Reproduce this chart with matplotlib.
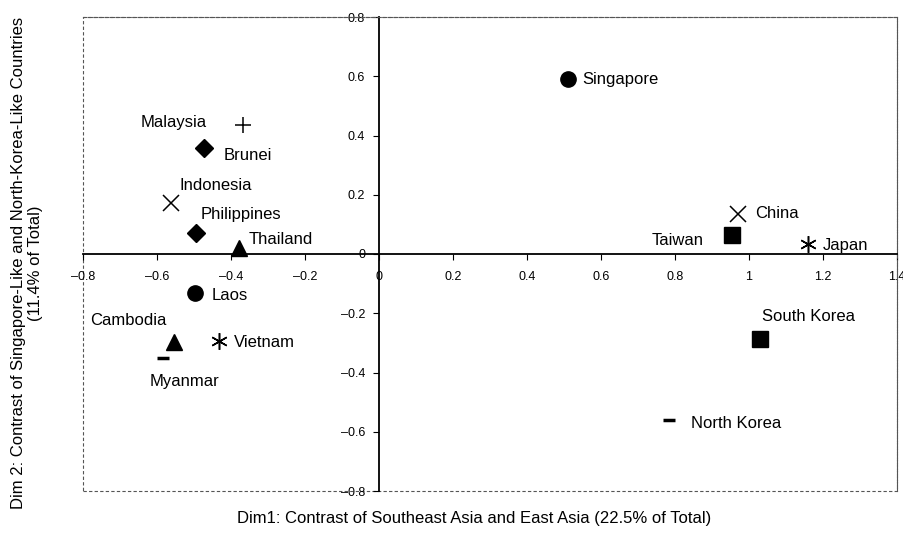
import matplotlib
matplotlib.use("Agg")
import matplotlib.pyplot as plt
from matplotlib.patches import Rectangle

plt.rcParams['font.family'] = ['Liberation Sans', 'DejaVu Sans']

# correspondence analysis coordinates
countries = ['Singapore', 'China', 'Taiwan', 'Japan', 'South Korea', 'North Korea',
             'Malaysia', 'Brunei', 'Indonesia', 'Philippines', 'Thailand',
             'Laos', 'Cambodia', 'Vietnam', 'Myanmar']
dim1 = [0.51, 0.97, 0.955, 1.16, 1.03, 0.785,
        -0.367, -0.473, -0.563, -0.495, -0.378,
        -0.497, -0.554, -0.432, -0.584]
dim2 = [0.59, 0.135, 0.064, 0.034, -0.287, -0.561,
        0.436, 0.358, 0.172, 0.071, 0.02,
        -0.132, -0.297, -0.294, -0.351]
markers = ['o', 'x', 's', (6, 2, 0), 's', '_',
           '+', 'D', 'x', 'D', '^',
           'o', '^', (6, 2, 0), '_']

xticks = [-0.8, -0.6, -0.4, -0.2, 0, 0.2, 0.4, 0.6, 0.8, 1, 1.2, 1.4]
xticklabels = ['\u20130.8', '\u20130.6', '\u20130.4', '\u20130.2', '0', '0.2', '0.4',
               '0.6', '0.8', '1', '1.2', '1.4']
yticks = [-0.8, -0.6, -0.4, -0.2, 0, 0.2, 0.4, 0.6, 0.8]
yticklabels = ['\u20130.8', '\u20130.6', '\u20130.4', '\u20130.2', '0', '0.2', '0.4', '0.6', '0.8']

# label placement (offset in pixels, alignment)
label_pos = {
    'Singapore': (15, 0, 'left'), 'China': (17, 1, 'left'), 'Taiwan': (-29, -5, 'right'),
    'Japan': (15, -2, 'left'), 'South Korea': (48, 23, 'center'), 'North Korea': (22, -3, 'left'),
    'Malaysia': (-36, 2, 'right'), 'Brunei': (20, -8, 'left'), 'Indonesia': (9, 18, 'left'),
    'Philippines': (5, 18, 'left'), 'Thailand': (9, 9, 'left'), 'Laos': (17, -2, 'left'),
    'Cambodia': (-8, 21, 'right'), 'Vietnam': (15, -1, 'left'), 'Myanmar': (22, -24, 'center'),
}

fig = plt.figure(figsize=(9.04, 5.33), dpi=100)
ax = fig.add_axes([83/904, 42/533, 814/904, 474/533])

for c, x, y, m in zip(countries, dim1, dim2, markers):
    if m in ('o', 's', '^'):
        ax.plot(x, y, marker=m, color='black', ms=11, ls='none')
    elif m == 'D':
        ax.plot(x, y, marker=m, color='black', ms=9, ls='none')
    elif m == '_':
        ax.plot(x, y, marker=m, color='black', ms=8, mew=2.5, ls='none')
    else:
        ax.plot(x, y, marker=m, color='black', ms=12, mew=1.1, ls='none')
    dx, dy, ha = label_pos[c]
    ax.annotate(c, (x, y), xytext=(dx, dy), textcoords='offset pixels',
                ha=ha, va='center', fontsize=12)

ax.set_xlim(-0.8, 1.4)
ax.set_ylim(-0.8, 0.8)
ax.spines['left'].set_position(('data', 0))
ax.spines['bottom'].set_position(('data', 0))
for s in ('left', 'bottom'):
    ax.spines[s].set_linewidth(1.3)
for s in ('top', 'right'):
    ax.spines[s].set_linestyle((0, (3, 2)))
    ax.spines[s].set_color('#555555')
    ax.spines[s].set_linewidth(0.8)
ax.add_patch(Rectangle((0, 0), 1, 1, transform=ax.transAxes, fill=False,
                       ls=(0, (3, 2)), ec='#555555', lw=0.8, clip_on=False))

ax.set_xticks(xticks)
ax.set_xticklabels(xticklabels, fontsize=9)
ax.set_yticks(yticks)
ax.set_yticklabels(yticklabels, fontsize=9)
ax.tick_params(axis='x', direction='out', length=4, pad=8)
ax.tick_params(axis='y', direction='out', length=4, pad=6)

fig.text(0.525, 0.028, 'Dim1: Contrast of Southeast Asia and East Asia (22.5% of Total)',
         ha='center', va='center', fontsize=12)
fig.text(0.03, 0.507,
         'Dim 2: Contrast of Singapore-Like and North-Korea-Like Countries\n(11.4% of Total)',
         rotation=90, ha='center', va='center', multialignment='center', fontsize=12)

fig.savefig('out.png', dpi=100)
